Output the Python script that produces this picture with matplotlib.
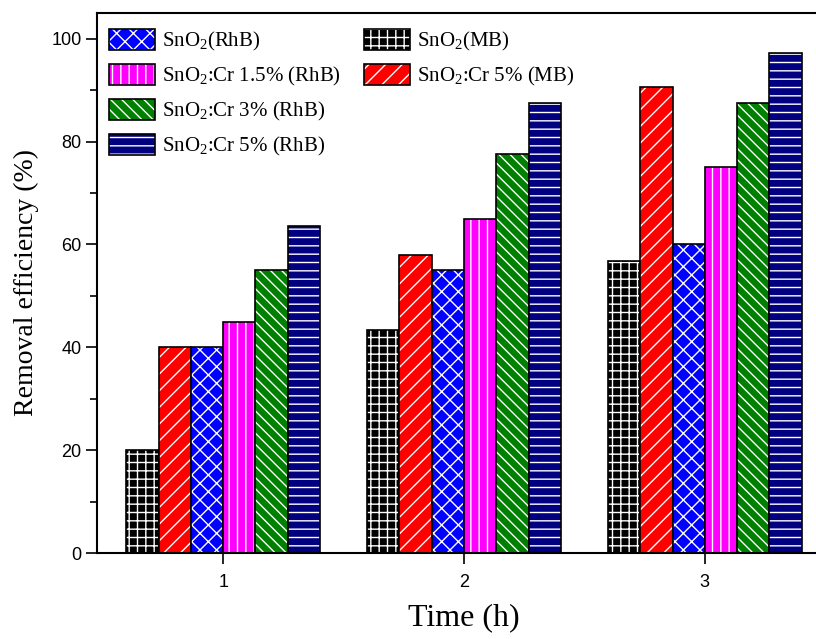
import matplotlib
matplotlib.use('Agg')
import matplotlib.pyplot as plt
import numpy as np
from matplotlib.patches import Patch
from matplotlib.ticker import MultipleLocator

plt.rcParams['mathtext.fontset'] = 'custom'
plt.rcParams['mathtext.rm'] = 'Liberation Serif'
plt.rcParams['mathtext.it'] = 'Liberation Serif:italic'
plt.rcParams['hatch.linewidth'] = 1.0

# data
times = [1, 2, 3]
labels = ['SnO$_2$(MB)', 'SnO$_2$:Cr 5% (MB)', 'SnO$_2$(RhB)',
          'SnO$_2$:Cr 1.5% (RhB)', 'SnO$_2$:Cr 3% (RhB)', 'SnO$_2$:Cr 5% (RhB)']
sno2_mb = [20, 43.3, 56.7]
cr5_mb = [40, 58, 90.7]
sno2_rhb = [40, 55, 60]
cr15_rhb = [45, 65, 75]
cr3_rhb = [55, 77.5, 87.5]
cr5_rhb = [63.5, 87.5, 97.2]
series = [sno2_mb, cr5_mb, sno2_rhb, cr15_rhb, cr3_rhb, cr5_rhb]

colors = ['#000000', '#FF0000', '#0000FF', '#FF00FF', '#008000', '#000080']
hatches = ['++', '//', 'xx', '||', '\\\\\\', '--']

fig = plt.figure(figsize=(8.16, 6.39), dpi=100)
ax = fig.add_axes([97/816, 86/639, 734/816, 540/639])

w = 0.134
x = np.array(times, dtype=float)
handles = {}
for i, (vals, c, h, lab) in enumerate(zip(series, colors, hatches, labels)):
    pos = x + (i - 2.5) * w
    ax.bar(pos, vals, w, color=c, edgecolor='white', hatch=h, linewidth=0)
    ax.bar(pos, vals, w, fill=False, edgecolor='black', linewidth=1.2)
    handles[lab] = (Patch(facecolor=c, edgecolor='white', hatch=h, linewidth=0),
                    Patch(fill=False, edgecolor='black', linewidth=1.2))

ax.set_xlim(0.476, 3.524)
ax.set_ylim(0, 105)
ax.set_xticks(times)
ax.yaxis.set_major_locator(MultipleLocator(20))
ax.yaxis.set_minor_locator(MultipleLocator(10))
ax.tick_params(direction='out', length=8, width=1.2, labelsize=13)
ax.tick_params(axis='x', pad=7)
ax.tick_params(axis='y', pad=3)
ax.tick_params(which='minor', direction='out', length=5, width=1.2)
for lb in ax.get_xticklabels() + ax.get_yticklabels():
    lb.set_fontfamily('Liberation Sans')
for sp in ax.spines.values():
    sp.set_linewidth(1.5)

ax.set_xlabel('Time (h)', fontfamily='Liberation Serif', fontsize=23, labelpad=9)
ax.set_ylabel('Removal efficiency (%)', fontfamily='Liberation Serif', fontsize=20, labelpad=9)

blank = Patch(visible=False)
order = [labels[2], labels[3], labels[4], labels[5], labels[0], labels[1]]
hl = [handles[l] for l in order] + [blank, blank]
ll = order + ['', '']
leg = ax.legend(hl, ll, ncol=2, loc='upper left', bbox_to_anchor=(0.002, 0.99),
                frameon=False, prop={'family': 'Liberation Serif', 'size': 15},
                handlelength=2.2, handleheight=1.2, handletextpad=0.35,
                labelspacing=0.52, columnspacing=1.1, borderaxespad=0.1)

fig.savefig('out.png', dpi=100)
